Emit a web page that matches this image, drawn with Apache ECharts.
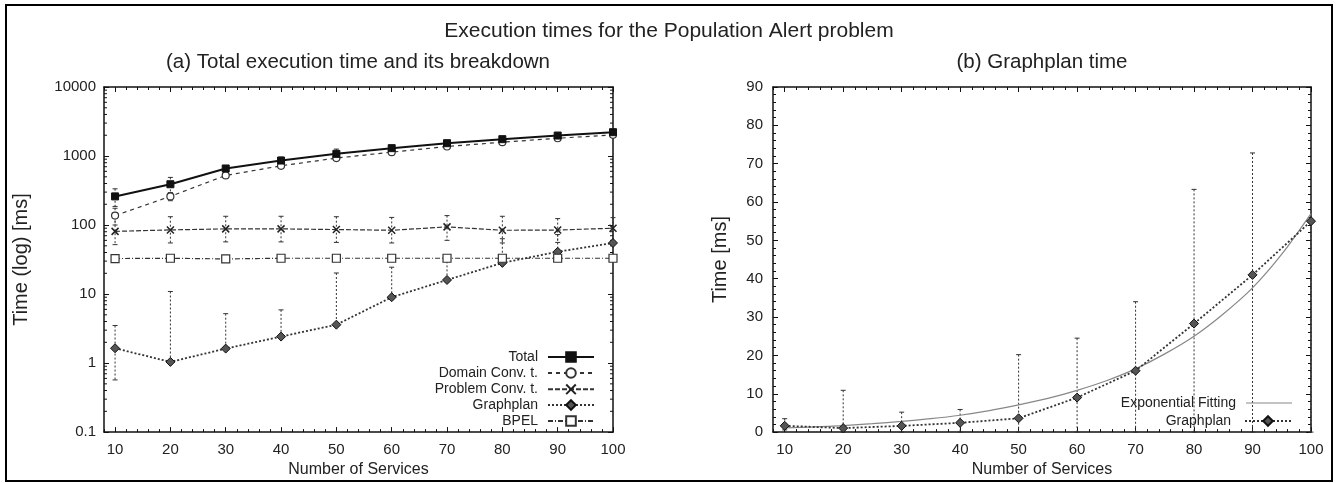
<!DOCTYPE html>
<html>
<head>
<meta charset="utf-8">
<script src="https://cdn.jsdelivr.net/npm/echarts@6/dist/echarts.min.js"></script>
<style>
html, body { margin: 0; padding: 0; background: #fff; }
#chart { width: 1338px; height: 483px; }
</style>
</head>
<body>
<div id="chart"></div>
<script>
// number of services (x)
const services = [10, 20, 30, 40, 50, 60, 70, 80, 90, 100]
const xTickLabels = [10, 20, 30, 40, 50, 60, 70, 80, 90, 100]

// (a) breakdown, ms
const total = [260, 390, 660, 860, 1075, 1300, 1535, 1755, 1980, 2215]
const totalLow = [186, 290, 620, 755, 890, 1180, 1470, 1710, 1910, 2130]
const totalHigh = [335, 490, 700, 965, 1260, 1420, 1600, 1800, 2050, 2300]

const domainConv = [137, 260, 523, 722, 933, 1138, 1374, 1585, 1810, 2025]
const domainLow = [100, 225, 490, 680, 880, 1090, 1320, 1530, 1750, 1960]
const domainHigh = [175, 295, 556, 765, 990, 1190, 1430, 1640, 1870, 2090]

const problemConv = [81, 85, 88, 88, 86, 84, 94, 84, 84.5, 90]
const problemLow = [52, 55, 57, 57, 56, 55, 60, 55, 56, 58]
const problemHigh = [130, 132, 134, 134, 132, 129, 137, 134, 124, 128]

const graphplan = [1.64, 1.04, 1.62, 2.42, 3.6, 9.0, 16.0, 28.3, 41.0, 55.0]
const graphplanLow = [0.57, 0, 0, 0, 0, 0, 0, 0, 0, 0]
const graphplanHigh = [3.5, 10.9, 5.2, 5.9, 20.2, 24.5, 34.0, 63.3, 72.8, 55.5]

const bpel = [32.7, 33, 32.3, 33, 33, 33, 33, 33, 33, 33]
const bpelLow = [31, 31, 30.5, 31, 31, 31, 31, 31, 31, 31]
const bpelHigh = [35, 35, 34.5, 35, 35, 35, 35, 35, 35, 35]

// (b) exponential fitting curve
const fitX = [10, 15, 20, 25, 30, 35, 40, 45, 50, 55, 60, 65, 70, 75, 80, 85, 90, 95, 100]
const expFitting = [1.1, 1.35, 1.7, 2.2, 2.8, 3.5, 4.4, 5.6, 7.1, 8.8, 10.9, 13.4, 16.5, 20.4, 25.0, 30.8, 37.6, 46.4, 57.0]

// log axis minor ticks
const logMinorTicks = [0.2, 0.3, 0.4, 0.5, 0.6, 0.7, 0.8, 0.9,
  2, 3, 4, 5, 6, 7, 8, 9,
  20, 30, 40, 50, 60, 70, 80, 90,
  200, 300, 400, 500, 600, 700, 800, 900,
  2000, 3000, 4000, 5000, 6000, 7000, 8000, 9000]

const FONT = "'Liberation Sans', Arial, sans-serif"
const INK = "#111"
const TXT = "#222"

function pairs(ys, xs) {
  xs = xs || services
  return xs.map((x, i) => [x, ys[i]])
}

//横轴：主刻度 + 次刻度，底部和顶部镜像
function xAxes(gridIndex, withLabels) {
  const major = {
    type: "value", gridIndex: gridIndex, min: 8, max: 100,
    splitLine: { show: false },
    axisLine: { show: true, lineStyle: { color: INK, width: 1.5 } },
    axisTick: { show: true, inside: true, length: 5, customValues: xTickLabels, lineStyle: { color: INK } }
  }
  const minor = {
    type: "value", gridIndex: gridIndex, min: 8, max: 100, interval: 2,
    splitLine: { show: false },
    axisLine: { show: false },
    axisLabel: { show: false },
    axisTick: { show: true, inside: true, length: 3, lineStyle: { color: INK } }
  }
  return [
    {
      ...major, position: "bottom",
      name: withLabels, nameLocation: "middle", nameGap: 28,
      nameTextStyle: { fontSize: 16, color: TXT, fontFamily: FONT },
      axisLabel: { show: true, customValues: xTickLabels, fontSize: 15, color: TXT, fontFamily: FONT, margin: 10 }
    },
    { ...minor, position: "bottom" },
    { ...major, position: "top", axisLabel: { show: false } },
    { ...minor, position: "top" }
  ]
}

//误差线
function errorBars(xIdx, yIdx, vals, lows, highs, isLog) {
  return {
    type: "custom",
    xAxisIndex: xIdx,
    yAxisIndex: yIdx,
    silent: true,
    z: 1,
    data: services.map((x, i) => [x, vals[i], lows[i], highs[i]]),
    encode: { x: 0, y: 1 },
    renderItem: function (params, api) {
      const x = api.value(0)
      const v = api.value(1)
      const lo = api.value(2)
      const hi = api.value(3)
      const top = api.coord([x, hi])
      const hasLow = !(isLog && lo <= 0)
      const bot = api.coord([x, hasLow ? lo : v])
      const style = { stroke: "#333", lineWidth: 1, lineDash: [2, 2] }
      const children = [
        { type: "line", shape: { x1: top[0], y1: top[1], x2: bot[0], y2: bot[1] }, style: style },
        { type: "line", shape: { x1: top[0] - 2.5, y1: top[1], x2: top[0] + 2.5, y2: top[1] }, style: { stroke: "#333", lineWidth: 1 } }
      ]
      if (hasLow) {
        children.push({ type: "line", shape: { x1: bot[0] - 2.5, y1: bot[1], x2: bot[0] + 2.5, y2: bot[1] }, style: { stroke: "#333", lineWidth: 1 } })
      }
      return { type: "group", children: children }
    }
  }
}

//单项图例，右对齐
function legendItem(name, right, centerY, extra) {
  return {
    data: [name],
    orient: "horizontal",
    align: "right",
    right: right,
    top: centerY - 8,
    padding: 0,
    itemWidth: 46,
    itemHeight: 12,
    selectedMode: false,
    textStyle: { fontSize: 14, color: TXT, fontFamily: FONT, padding: [0, 5, 0, 0] },
    ...extra
  }
}

const xName = "Number of Services"

let option = {
  animation: false,
  backgroundColor: "#fff",
  grid: [
    { left: 104, top: 87, width: 509, height: 346 },
    { left: 773, top: 87, width: 538, height: 346 }
  ],
  legend: [
    legendItem("Total", 743, 358),
    legendItem("Domain Conv. t.", 743, 374),
    legendItem("Problem Conv. t.", 743, 390),
    legendItem("Graphplan", 743, 406),
    legendItem("BPEL", 743, 422),
    legendItem("Exponential Fitting", 46, 404, { icon: "rect", itemHeight: 1.2 }),
    legendItem("Graphplan ", 46, 422)
  ],
  xAxis: [...xAxes(0, xName), ...xAxes(1, xName)],
  yAxis: [
    {
      type: "log", logBase: 10, gridIndex: 0, min: 0.1, max: 10000, interval: 1, position: "left",
      name: "Time (log) [ms]", nameLocation: "middle", nameGap: 73,
      nameTextStyle: { fontSize: 20, color: TXT, fontFamily: FONT },
      splitLine: { show: false },
      axisLine: { show: true, lineStyle: { color: INK, width: 1.5 } },
      axisTick: { show: true, inside: true, length: 5, lineStyle: { color: INK } },
      axisLabel: { fontSize: 15, color: TXT, fontFamily: FONT, margin: 8, formatter: v => String(v) }
    },
    {
      type: "log", logBase: 10, gridIndex: 0, min: 0.1, max: 10000, interval: 1, position: "right",
      splitLine: { show: false },
      axisLine: { show: true, lineStyle: { color: INK, width: 1.5 } },
      axisTick: { show: true, inside: true, length: 5, lineStyle: { color: INK } },
      axisLabel: { show: false }
    },
    {
      type: "value", gridIndex: 1, min: 0, max: 90, interval: 10, position: "left",
      name: "Time [ms]", nameLocation: "middle", nameGap: 43,
      nameTextStyle: { fontSize: 20, color: TXT, fontFamily: FONT },
      splitLine: { show: false },
      axisLine: { show: true, lineStyle: { color: INK, width: 1.5 } },
      axisTick: { show: true, inside: true, length: 5, lineStyle: { color: INK } },
      minorTick: { show: true, splitNumber: 5, length: 3, lineStyle: { color: INK } },
      axisLabel: { fontSize: 15, color: TXT, fontFamily: FONT, margin: 10 }
    },
    {
      type: "value", gridIndex: 1, min: 0, max: 90, interval: 10, position: "right",
      splitLine: { show: false },
      axisLine: { show: true, lineStyle: { color: INK, width: 1.5 } },
      axisTick: { show: true, inside: true, length: 5, lineStyle: { color: INK } },
      minorTick: { show: true, splitNumber: 5, length: 3, lineStyle: { color: INK } },
      axisLabel: { show: false }
    }
  ],
  graphic: [
    { type: "rect", shape: { x: 6, y: 5, width: 1326, height: 476 }, style: { fill: "none", stroke: "#000", lineWidth: 2 }, z: 0 },
    { type: "text", x: 669, y: 31, style: { text: "Execution times for the Population Alert problem", fontSize: 21, fill: TXT, fontFamily: FONT, textAlign: "center", textVerticalAlign: "middle" } },
    { type: "text", x: 358, y: 62, style: { text: "(a) Total execution time and its breakdown", fontSize: 20.5, fill: TXT, fontFamily: FONT, textAlign: "center", textVerticalAlign: "middle" } },
    { type: "text", x: 1042, y: 62, style: { text: "(b) Graphplan time", fontSize: 20.5, fill: TXT, fontFamily: FONT, textAlign: "center", textVerticalAlign: "middle" } }
  ],
  series: [
    //对数轴次刻度
    {
      type: "custom", xAxisIndex: 0, yAxisIndex: 0, silent: true, z: 1,
      data: logMinorTicks.map(v => [8, v]),
      encode: { x: 0, y: 1 },
      renderItem: function (params, api) {
        const v = api.value(1)
        const l = api.coord([8, v])
        const r = api.coord([100, v])
        return {
          type: "group",
          children: [
            { type: "line", shape: { x1: l[0], y1: l[1], x2: l[0] + 3, y2: l[1] }, style: { stroke: INK, lineWidth: 1 } },
            { type: "line", shape: { x1: r[0] - 3, y1: r[1], x2: r[0], y2: r[1] }, style: { stroke: INK, lineWidth: 1 } }
          ]
        }
      }
    },
    errorBars(0, 0, total, totalLow, totalHigh, true),
    errorBars(0, 0, domainConv, domainLow, domainHigh, true),
    errorBars(0, 0, problemConv, problemLow, problemHigh, true),
    errorBars(0, 0, graphplan, graphplanLow, graphplanHigh, true),
    errorBars(0, 0, bpel, bpelLow, bpelHigh, true),
    {
      name: "Total", type: "line", xAxisIndex: 0, yAxisIndex: 0, z: 5,
      data: pairs(total),
      symbol: "rect", symbolSize: 7,
      lineStyle: { color: INK, width: 2, type: "solid" },
      itemStyle: { color: INK, borderColor: INK, borderWidth: 1 }
    },
    {
      name: "Domain Conv. t.", type: "line", xAxisIndex: 0, yAxisIndex: 0, z: 4,
      data: pairs(domainConv),
      symbol: "circle", symbolSize: 7,
      lineStyle: { color: "#333", width: 1.2, type: [4, 4] },
      itemStyle: { color: "#fff", borderColor: "#333", borderWidth: 1.2 }
    },
    {
      name: "Problem Conv. t.", type: "line", xAxisIndex: 0, yAxisIndex: 0, z: 4,
      data: pairs(problemConv),
      symbol: "path://M0,0L10,10M0,10L10,0", symbolSize: 7,
      lineStyle: { color: "#333", width: 1.2, type: [5, 2] },
      itemStyle: { color: "none", borderColor: "#222", borderWidth: 1.5 }
    },
    {
      name: "Graphplan", type: "line", xAxisIndex: 0, yAxisIndex: 0, z: 4,
      data: pairs(graphplan),
      symbol: "diamond", symbolSize: 9,
      lineStyle: { color: "#333", width: 1.8, type: [2, 2] },
      itemStyle: { color: "#555", borderColor: "#111", borderWidth: 1 }
    },
    {
      name: "BPEL", type: "line", xAxisIndex: 0, yAxisIndex: 0, z: 4,
      data: pairs(bpel),
      symbol: "rect", symbolSize: 8,
      lineStyle: { color: "#333", width: 1.2, type: [5, 2, 1, 2] },
      itemStyle: { color: "#fff", borderColor: "#333", borderWidth: 1.2 }
    },
    //右图
    errorBars(4, 2, graphplan, graphplanLow, graphplanHigh, false),
    {
      name: "Exponential Fitting", type: "line", xAxisIndex: 4, yAxisIndex: 2, z: 3,
      data: pairs(expFitting, fitX),
      smooth: 0.3, showSymbol: false, symbol: "none",
      lineStyle: { color: "#888", width: 1.2 },
      itemStyle: { color: "#888" }
    },
    {
      name: "Graphplan ", type: "line", xAxisIndex: 4, yAxisIndex: 2, z: 4,
      data: pairs(graphplan),
      symbol: "diamond", symbolSize: 9,
      lineStyle: { color: "#333", width: 1.8, type: [2, 2] },
      itemStyle: { color: "#555", borderColor: "#111", borderWidth: 1 }
    }
  ]
}

const chartEl = echarts.init(document.getElementById("chart"))
chartEl.setOption(option)
</script>
</body>
</html>
